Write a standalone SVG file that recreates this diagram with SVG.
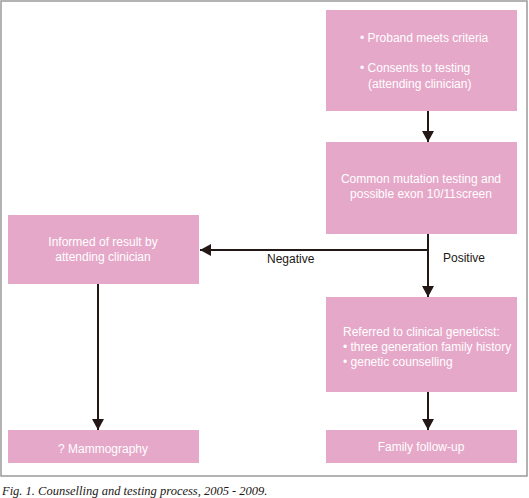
<svg xmlns="http://www.w3.org/2000/svg" width="529" height="498" viewBox="0 0 529 498">
<style>
.box{fill:#E6A8C9}
.t{fill:#ffffff;font-family:"Liberation Sans",Arial,sans-serif;font-size:12px}
.c{text-anchor:middle}
.lbl{fill:#231815;font-family:"Liberation Sans",Arial,sans-serif;font-size:12px}
.ln{stroke:#231815;stroke-width:2;fill:none}
</style>
<defs>
<marker id="ah" markerWidth="12" markerHeight="12" refX="11" refY="6" orient="auto" markerUnits="userSpaceOnUse">
<path d="M0,0 L11,6 L0,12 Z" fill="#231815"/>
</marker>
</defs>
<rect x="1" y="1" width="526" height="475" fill="#ffffff" stroke="#9a9a9a" stroke-width="1.5"/>
<g id="connectors">
<line class="ln" x1="428" y1="111" x2="428" y2="142" marker-end="url(#ah)"/>
<line class="ln" x1="428" y1="234" x2="428" y2="297" marker-end="url(#ah)"/>
<line class="ln" x1="428" y1="250" x2="200" y2="250" marker-end="url(#ah)"/>
<line class="ln" x1="428" y1="392" x2="428" y2="430" marker-end="url(#ah)"/>
<line class="ln" x1="98" y1="284" x2="98" y2="430" marker-end="url(#ah)"/>
<text class="lbl" x="267" y="263">Negative</text>
<text class="lbl" x="443" y="262">Positive</text>
</g>
<g id="proband">
<rect class="box" x="326" y="10" width="191" height="101"/>
<text class="t" x="360" y="42">• Proband meets criteria</text>
<text class="t" x="360" y="72">• Consents to testing</text>
<text class="t" x="368" y="88">(attending clinician)</text>
</g>
<g id="testing">
<rect class="box" x="326" y="142" width="191" height="92"/>
<text class="t c" x="421" y="183">Common mutation testing and</text>
<text class="t c" x="421" y="198">possible exon 10/11screen</text>
</g>
<g id="informed">
<rect class="box" x="8" y="215" width="191" height="69"/>
<text class="t c" x="103" y="246">Informed of result by</text>
<text class="t c" x="103" y="261">attending clinician</text>
</g>
<g id="referred">
<rect class="box" x="326" y="297" width="191" height="95"/>
<text class="t" x="343" y="336">Referred to clinical geneticist:</text>
<text class="t" x="343" y="351">• three generation family history</text>
<text class="t" x="343" y="366">• genetic counselling</text>
</g>
<g id="followup">
<rect class="box" x="326" y="430" width="191" height="33"/>
<text class="t c" x="421" y="451">Family follow-up</text>
</g>
<g id="mammo">
<rect class="box" x="8" y="430" width="191" height="33"/>
<text class="t c" x="103" y="453">? Mammography</text>
</g>
<text x="2" y="495" font-family="Liberation Serif,Times New Roman,serif" font-style="italic" font-size="12.5" fill="#231815">Fig. 1. Counselling and testing process, 2005 - 2009.</text>
</svg>
